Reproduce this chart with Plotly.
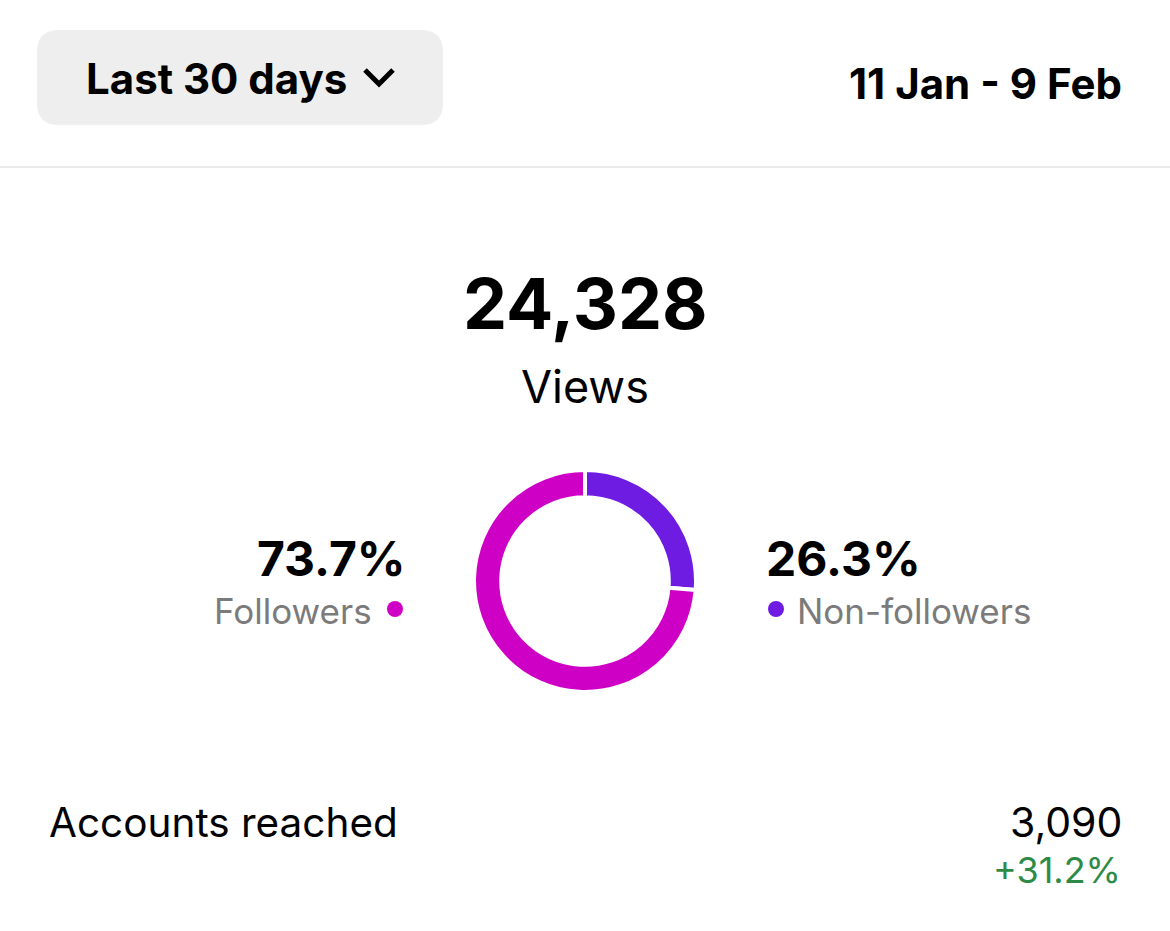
import plotly.graph_objects as go

W, H = 1170, 931

# ---- data ----
period_label = "Last 30 days"
date_range = "11 Jan - 9 Feb"
total_views = 24328
metric_label = "Views"
segments = ["Non-followers", "Followers"]
shares = [26.3, 73.7]
seg_colors = ["#6E1BE2", "#CF00C6"]
reach_label = "Accounts reached"
reach_value = 3090
reach_change = 31.2

FONT = "Inter"

def px(x):
    return x / W

def py(y):
    return 1 - y / H

fig = go.Figure()

# donut
cx, cy, r = 585, 581, 111
fig.add_trace(go.Pie(
    labels=segments,
    values=shares,
    sort=False,
    direction="clockwise",
    rotation=0,
    hole=0.755,
    textinfo="none",
    hoverinfo="label+percent",
    marker=dict(colors=seg_colors, line=dict(color="white", width=4)),
    domain=dict(x=[px(cx - r), px(cx + r)], y=[py(cy + r), py(cy - r)]),
    showlegend=False,
))

annotations = []

def text(x, y, s, size, color="#000000", bold=False, xanchor="center", family=FONT):
    annotations.append(dict(
        x=px(x), y=py(y), xref="paper", yref="paper",
        text=f"<b>{s}</b>" if bold else s,
        showarrow=False, xanchor=xanchor, yanchor="middle",
        font=dict(family=family, size=size, color=color),
    ))

text(84, 78, period_label, 42, bold=True, xanchor="left")
text(1124, 83, date_range, 42, bold=True, xanchor="right")
text(585, 303, f"{total_views:,}", 70, bold=True)
text(585, 386, metric_label, 45)

fol = segments.index("Followers")
non = segments.index("Non-followers")
text(408, 558, f"{shares[fol]}%", 48, bold=True, xanchor="right")
text(374, 611, segments[fol], 35, color="#7B7B7B", xanchor="right")
text(764, 558, f"{shares[non]}%", 48, bold=True, xanchor="left")
text(795, 611, segments[non], 35, color="#7B7B7B", xanchor="left")

text(47, 822, reach_label, 40.5, xanchor="left")
text(1124, 822, f"{reach_value:,}", 41, xanchor="right")
text(1123, 870, f"+{reach_change}%", 36, color="#2E8B47", xanchor="right")

shapes = []

# button background (rounded rect)
x0, x1, y0, y1, rr = 37, 443, 30, 125, 22
def P(x, y):
    return f"{px(x)},{py(y)}"
path = (f"M {P(x0+rr,y0)} L {P(x1-rr,y0)} Q {P(x1,y0)} {P(x1,y0+rr)} "
        f"L {P(x1,y1-rr)} Q {P(x1,y1)} {P(x1-rr,y1)} "
        f"L {P(x0+rr,y1)} Q {P(x0,y1)} {P(x0,y1-rr)} "
        f"L {P(x0,y0+rr)} Q {P(x0,y0)} {P(x0+rr,y0)} Z")
shapes.append(dict(type="path", xref="paper", yref="paper", path=path,
                   fillcolor="#EEEEEE", line=dict(width=0), layer="below"))

# chevron
shapes.append(dict(type="path", xref="paper", yref="paper",
                   path=f"M {P(365,70)} L {P(379,84)} L {P(393,70)}",
                   line=dict(color="#000000", width=5)))

# divider
shapes.append(dict(type="line", xref="paper", yref="paper",
                   x0=0, x1=1, y0=py(167), y1=py(167),
                   line=dict(color="#E2E2E2", width=1.5)))

# legend dots
for (dx, dy, col) in [(395, 609, seg_colors[fol]), (776, 609, seg_colors[non])]:
    rd = 8
    shapes.append(dict(type="circle", xref="paper", yref="paper",
                       x0=px(dx - rd), x1=px(dx + rd), y0=py(dy + rd), y1=py(dy - rd),
                       fillcolor=col, line=dict(width=0)))

fig.update_layout(
    width=W, height=H,
    margin=dict(l=0, r=0, t=0, b=0),
    paper_bgcolor="white",
    plot_bgcolor="white",
    annotations=annotations,
    shapes=shapes,
)

fig.write_html(
    "out.html",
    config={"displayModeBar": False},
    post_script="document.body.style.margin='0';document.body.style.overflow='hidden';",
)
